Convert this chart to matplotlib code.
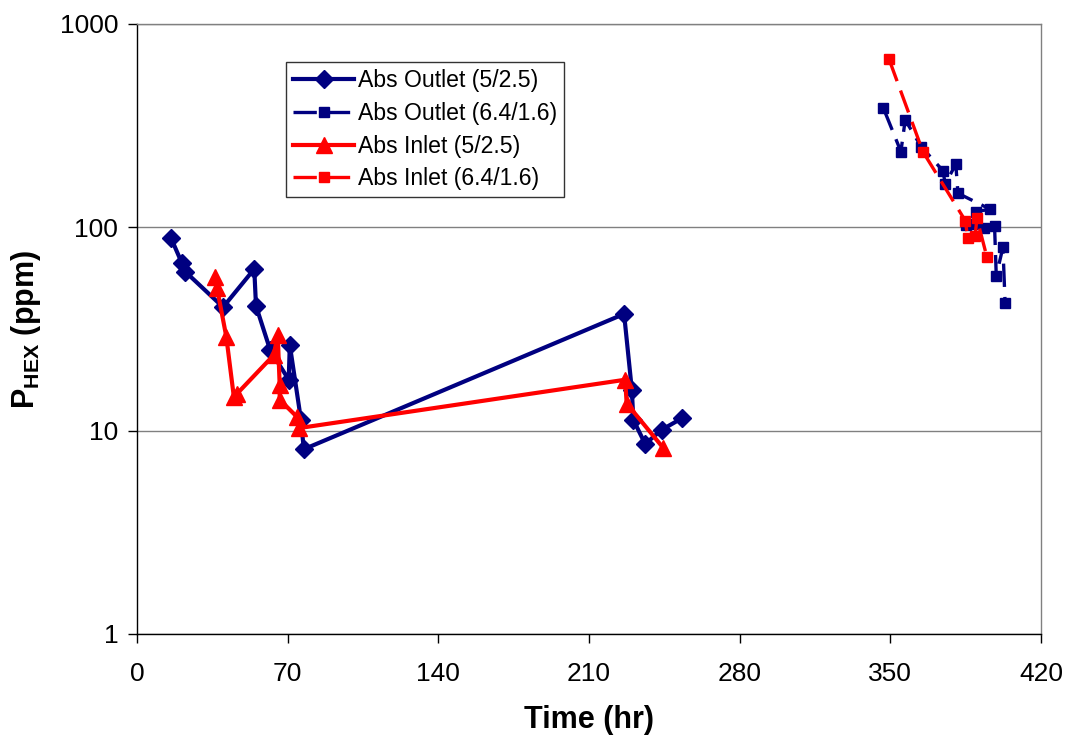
import matplotlib
matplotlib.use("Agg")
import matplotlib.pyplot as plt

plt.rcParams['font.family'] = ['Liberation Sans', 'DejaVu Sans']
plt.rcParams['mathtext.fontset'] = 'custom'
plt.rcParams['mathtext.rm'] = 'Liberation Sans'
plt.rcParams['mathtext.bf'] = 'Liberation Sans:bold'

# Abs Outlet (5/2.5)
out1_t = [15.8, 20.9, 22.4, 40.0, 54.5, 55.3, 61.9, 70.5, 71.0, 76.2, 77.5,
          226.3, 229.9, 230.6, 236.1, 243.8, 253.1]
out1_p = [88.7, 66.6, 60.6, 40.5, 62.4, 41.1, 24.9, 17.8, 26.4, 11.3, 8.1,
          37.5, 15.9, 11.3, 8.6, 10.1, 11.5]

# Abs Outlet (6.4/1.6)
out2_t = [346.8, 354.9, 356.9, 364.3, 374.4, 375.5, 380.4, 381.4, 396.4, 389.9,
          385.2, 389.4, 393.4, 398.4, 399.2, 402.3, 403.3]
out2_p = [385, 235.7, 337.6, 249.5, 190, 163.5, 204.3, 147.1, 122.7, 119.5,
          102.8, 104, 99, 102, 57.7, 79.8, 42.6]

# Abs Inlet (5/2.5)
in1_t = [36.4, 37.2, 41.5, 45.0, 46.5, 63.5, 65.4, 66.3, 66.3, 74.3, 75.4,
         226.8, 227.5, 244.6]
in1_p = [57.2, 50.2, 29.0, 14.7, 15.2, 23.5, 29.6, 16.8, 14.2, 11.7, 10.3,
         17.8, 13.6, 8.2]

# Abs Inlet (6.4/1.6)
in2_t = [349.4, 365.1, 384.8, 386.0, 389.4, 390.2, 394.8]
in2_p = [671, 235.7, 107.9, 88.4, 90.7, 110.9, 71.8]

xticks = [0, 70, 140, 210, 280, 350, 420]
yticks = [1, 10, 100, 1000]
ytick_labels = ['1', '10', '100', '1000']

navy = '#000080'
red = '#FF0000'

fig = plt.figure(figsize=(10.65, 7.36), dpi=100)
ax = fig.add_axes([0.1286, 0.1386, 0.9775 - 0.1286, 0.9674 - 0.1386])

ax.plot(out1_t, out1_p, color=navy, lw=3.0, marker='D', ms=9.5,
        label='Abs Outlet (5/2.5)')
ax.plot(out2_t, out2_p, color=navy, lw=2.4, marker='s', ms=6.5,
        dashes=(7, 3), label='Abs Outlet (6.4/1.6)')
ax.plot(in1_t, in1_p, color=red, lw=3.0, marker='^', ms=11.5,
        label='Abs Inlet (5/2.5)')
ax.plot(in2_t, in2_p, color=red, lw=2.4, marker='s', ms=6.5,
        dashes=(7, 3), label='Abs Inlet (6.4/1.6)')

ax.set_yscale('log')
ax.set_xlim(0, 420)
ax.set_ylim(1, 1000)
ax.set_xticks(xticks)
ax.set_xticklabels([str(v) for v in xticks])
ax.set_yticks(yticks)
ax.set_yticklabels(ytick_labels)
ax.minorticks_off()
ax.yaxis.set_minor_locator(matplotlib.ticker.NullLocator())

ax.grid(True, axis='y', which='major', color='#808080', lw=1.0)
ax.set_axisbelow(True)
ax.spines['top'].set_color('#808080')
ax.spines['right'].set_color('#808080')
ax.spines['left'].set_color('black')
ax.spines['bottom'].set_color('black')
for s in ax.spines.values():
    s.set_linewidth(1.0)

ax.tick_params(axis='both', direction='out', length=6.5, width=1.0,
               labelsize=19, color='black')
ax.tick_params(axis='y', pad=7)
ax.tick_params(axis='x', pad=14)

ax.set_xlabel('Time (hr)', fontsize=22, fontweight='bold', labelpad=13)
ax.set_ylabel(r'$\mathbf{P_{HEX}}$ (ppm)', fontsize=22, fontweight='bold',
              labelpad=12)

leg = ax.legend(loc='upper left', bbox_to_anchor=(0.165, 0.937), fontsize=16.6,
                frameon=True, fancybox=False, edgecolor='black',
                handlelength=2.65, handletextpad=0.18, borderpad=0.3,
                labelspacing=0.42, borderaxespad=0)
leg.get_frame().set_linewidth(1.0)

fig.savefig('out.png', dpi=100)
